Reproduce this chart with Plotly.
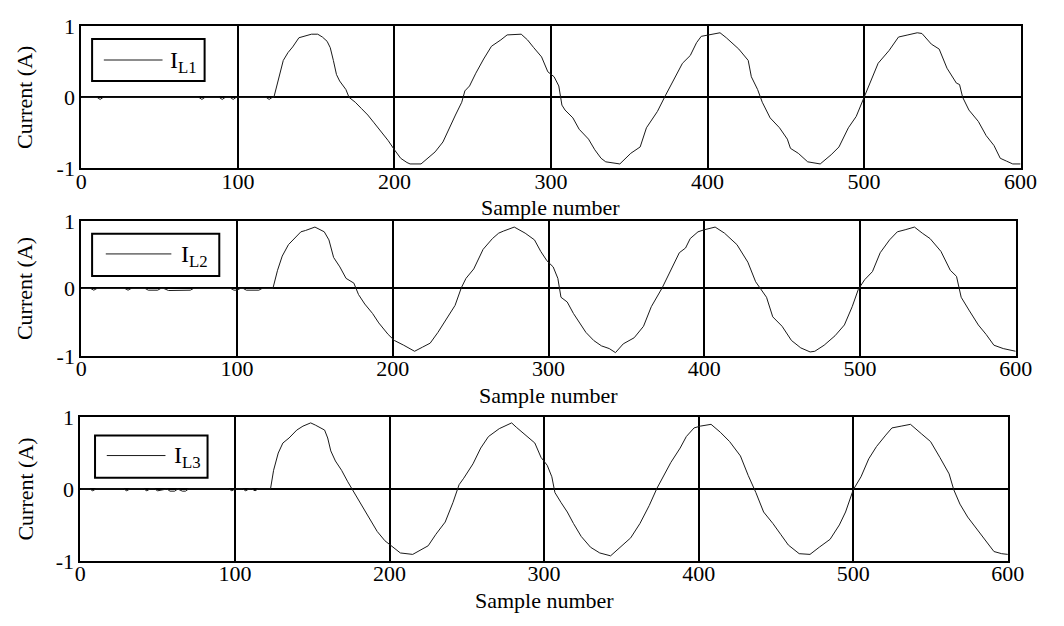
import plotly.graph_objects as go

# ---------------- data ----------------
x_ticks = [0, 100, 200, 300, 400, 500, 600]
x_tick_labels = ["0", "100", "200", "300", "400", "500", "600"]
y_ticks = [-1, 0, 1]
y_tick_labels = ["-1", "0", "1"]
series_names = ["I<sub>L1</sub>", "I<sub>L2</sub>", "I<sub>L3</sub>"]

l1_x = [0, 10, 12, 14, 75, 77, 79, 88, 90, 92, 95, 97, 99, 118, 120, 122,
        123, 126, 129, 132, 135, 139, 143, 147, 151, 154, 157, 159, 161, 163, 165,
        169, 171, 175, 179, 183, 187, 192, 196, 200, 204, 208, 210, 217, 221, 226,
        231, 235, 239, 243, 245, 248, 252, 257, 262, 268, 272, 281, 285, 289, 294,
        298, 302, 305, 307, 309, 314, 318, 324, 328, 332, 335, 344, 351, 357, 361,
        368, 373, 379, 384, 389, 393, 396, 400, 408, 412, 420, 426, 428, 432, 435,
        440, 446, 451, 453, 458, 464, 472, 479, 484, 490, 495, 500, 504, 509, 516,
        522, 528, 534, 537, 543, 548, 553, 559, 561, 563, 567, 573, 578, 583, 587,
        591, 595, 600]
l1_y = [0, 0, -0.03, 0, 0, -0.03, 0, 0, -0.03, 0, 0, -0.03, 0, 0, -0.03, 0,
        0.0, 0.25, 0.52, 0.63, 0.71, 0.84, 0.87, 0.89, 0.89, 0.85, 0.79, 0.70, 0.52, 0.32, 0.23,
        0.11, 0.0, -0.07, -0.16, -0.25, -0.36, -0.50, -0.61, -0.74, -0.86, -0.92, -0.94, -0.94, -0.87, -0.77,
        -0.63, -0.43, -0.25, -0.07, 0.09, 0.16, 0.34, 0.54, 0.72, 0.81, 0.88, 0.89, 0.81, 0.70, 0.57,
        0.36, 0.29, 0.16, -0.11, -0.18, -0.29, -0.45, -0.59, -0.74, -0.86, -0.91, -0.94, -0.79, -0.70, -0.43,
        -0.20, 0.02, 0.27, 0.48, 0.59, 0.77, 0.86, 0.88, 0.91, 0.84, 0.68, 0.52, 0.29, 0.11, -0.07,
        -0.29, -0.43, -0.59, -0.72, -0.79, -0.91, -0.94, -0.81, -0.70, -0.43, -0.27, 0.0, 0.23, 0.48, 0.66,
        0.85, 0.88, 0.91, 0.90, 0.75, 0.68, 0.41, 0.20, 0.18, 0.0, -0.18, -0.34, -0.54, -0.68, -0.86,
        -0.90, -0.94, -0.94]

l2_x = [0, 6, 8, 10, 28, 30, 32, 41, 43, 46, 49, 51, 53, 56, 60, 64, 68, 70, 72, 96, 98, 100, 102,
        104, 106, 110, 114, 116, 123,
        126, 129, 133, 136, 141, 144, 150, 156, 159, 162, 166, 170, 175, 178, 182, 187, 191,
        197, 201, 207, 214, 219, 224, 229, 234, 240, 244, 247, 252, 258, 264, 268, 271, 278,
        285, 291, 295, 299, 303, 306, 308, 312, 316, 320, 324, 329, 334, 339, 343, 348, 355,
        361, 366, 373, 379, 384, 388, 391, 396, 400, 407, 413, 421, 428, 433, 440, 444, 450,
        456, 462, 468, 471, 477, 484, 490, 495, 499, 503, 508, 513, 519, 524, 529, 535, 540,
        545, 552, 558, 562, 565, 570, 576, 581, 586, 592, 600]
l2_y = [0, 0, -0.025, 0, 0, -0.025, 0, 0, -0.025, -0.025, -0.025, 0, 0, -0.03, -0.03, -0.03, -0.03, -0.025, 0, 0, -0.025, -0.025, 0,
        0, -0.025, -0.025, -0.025, 0, 0,
        0.27, 0.48, 0.65, 0.72, 0.84, 0.86, 0.91, 0.84, 0.72, 0.46, 0.32, 0.15, 0.08, -0.09, -0.23, -0.37, -0.51,
        -0.68, -0.77, -0.84, -0.93, -0.87, -0.81, -0.65, -0.46, -0.25, 0.01, 0.15, 0.29, 0.58, 0.74, 0.82, 0.85, 0.91,
        0.82, 0.72, 0.55, 0.41, 0.32, 0.15, -0.13, -0.20, -0.37, -0.51, -0.65, -0.77, -0.85, -0.89, -0.95, -0.82, -0.73,
        -0.56, -0.27, 0.01, 0.29, 0.53, 0.60, 0.74, 0.84, 0.87, 0.91, 0.82, 0.65, 0.39, 0.10, -0.13, -0.42, -0.56,
        -0.77, -0.88, -0.94, -0.93, -0.84, -0.70, -0.54, -0.27, -0.01, 0.13, 0.25, 0.53, 0.72, 0.84, 0.87, 0.91, 0.82,
        0.74, 0.55, 0.27, 0.18, -0.13, -0.32, -0.54, -0.68, -0.84, -0.89, -0.93]

l3_x = [0, 6, 8, 10, 28, 30, 32, 41, 43, 45, 48, 50, 56, 58, 61, 63, 66, 68, 70, 96, 98, 100,
        105, 107, 109, 111, 113, 115, 123,
        125, 128, 131, 135, 140, 144, 149, 152, 158, 160, 162, 165, 169, 173, 178, 182, 187,
        192, 197, 201, 207, 215, 220, 225, 230, 236, 241, 245, 248, 254, 259, 264, 271, 279,
        282, 287, 294, 298, 302, 305, 307, 311, 315, 319, 324, 330, 336, 343, 350, 356, 362,
        368, 373, 378, 382, 388, 392, 397, 401, 408, 414, 420, 427, 432, 437, 442, 448, 453,
        458, 465, 472, 478, 485, 491, 495, 500, 505, 510, 515, 521, 525, 531, 537, 544, 550,
        556, 562, 565, 569, 574, 581, 587, 591, 596, 600]
l3_y = [0, 0, -0.025, 0, 0, -0.025, 0, 0, -0.025, 0, 0, -0.025, 0, -0.03, -0.03, 0, -0.03, -0.03, 0, 0, -0.025, 0,
        0, -0.025, 0, 0, -0.025, 0, 0,
        0.26, 0.50, 0.64, 0.71, 0.82, 0.875, 0.92, 0.89, 0.82, 0.71, 0.53, 0.39, 0.26, 0.10, -0.08, -0.21, -0.41,
        -0.59, -0.72, -0.79, -0.89, -0.91, -0.85, -0.79, -0.63, -0.46, -0.19, 0.06, 0.15, 0.35, 0.57, 0.73, 0.84, 0.92,
        0.86, 0.77, 0.64, 0.44, 0.33, 0.17, -0.05, -0.19, -0.32, -0.48, -0.66, -0.81, -0.89, -0.93, -0.79, -0.68, -0.48,
        -0.23, 0.01, 0.21, 0.37, 0.57, 0.73, 0.85, 0.875, 0.90, 0.79, 0.66, 0.46, 0.19, -0.05, -0.32, -0.48, -0.63,
        -0.78, -0.90, -0.91, -0.81, -0.70, -0.50, -0.32, -0.01, 0.17, 0.42, 0.59, 0.75, 0.85, 0.875, 0.90, 0.77, 0.66,
        0.44, 0.21, -0.01, -0.21, -0.39, -0.59, -0.77, -0.87, -0.90, -0.91]

# ---------------- layout helpers ----------------
W, H = 1064, 626
FONT = "Liberation Serif"


def px(x):
    return x / W


def py(y):
    return 1 - y / H


# plot-area pixel boxes: (left, right, top, bottom)
panels = [(77, 1037, 15, 162.7), (77, 1032, 217.7, 358.3), (76, 1024, 422, 571.7)]
legend_boxes = [  # (left, right, top, bottom, line_x0, line_x1, line_y, text_x)
    (88, 203, 28, 72, 100, 160, 50, 166),
    (88, 218, 231, 275, 102, 169, 252, 177),
    (91, 206, 441, 485, 103, 163, 462, 170),
]
series = [(l1_x, l1_y), (l2_x, l2_y), (l3_x, l3_y)]

fig = go.Figure()
shapes = []
annotations = []

for i, ((sx, sy), (L, R, T, B), lb, name) in enumerate(zip(series, panels, legend_boxes, series_names)):
    n = "" if i == 0 else str(i + 1)
    fig.add_trace(go.Scatter(x=sx, y=sy, mode="lines", name=name,
                             line=dict(color="#1a1a1a", width=1),
                             xaxis="x" + n, yaxis="y" + n, showlegend=False))
    axis_common = dict(showline=True, mirror=True, linecolor="black", linewidth=2,
                       showgrid=True, gridcolor="black", gridwidth=1.5, zeroline=False,
                       ticks="", tickfont=dict(family=FONT, size=22, color="black"))
    fig.update_layout(**{
        "xaxis" + n: dict(domain=[px(L), px(R)], range=[0, 600], anchor="y" + n,
                          tickvals=x_ticks, ticktext=x_tick_labels,
                          ticklabelstandoff=-8, **axis_common),
        "yaxis" + n: dict(domain=[py(B), py(T)], range=[-1, 1], anchor="x" + n,
                          tickvals=y_ticks, ticktext=y_tick_labels, **axis_common),
    })
    # x-axis title
    annotations.append(dict(text="Sample number", x=px((L + R) / 2), y=py(B + 41),
                            xref="paper", yref="paper", showarrow=False,
                            xanchor="center", yanchor="middle",
                            font=dict(family=FONT, size=22, color="black")))
    # y-axis title
    annotations.append(dict(text="Current (A)", x=px(19), y=py((T + B) / 2),
                            xref="paper", yref="paper", showarrow=False, textangle=-90,
                            xanchor="center", yanchor="middle",
                            font=dict(family=FONT, size=22, color="black")))
    # legend box
    bl, br, bt, bb, lx0, lx1, ly, tx = lb
    shapes.append(dict(type="rect", xref="paper", yref="paper",
                       x0=px(bl), x1=px(br), y0=py(bb), y1=py(bt),
                       line=dict(color="black", width=2), fillcolor="white", layer="above"))
    shapes.append(dict(type="line", xref="paper", yref="paper",
                       x0=px(lx0), x1=px(lx1), y0=py(ly), y1=py(ly),
                       line=dict(color="#1a1a1a", width=1), layer="above"))
    annotations.append(dict(text="I<sub>L%d</sub>" % (i + 1), x=px(tx), y=py(ly + 2),
                            xref="paper", yref="paper", showarrow=False,
                            xanchor="left", yanchor="middle",
                            font=dict(family=FONT, size=24, color="black")))

fig.update_layout(width=W, height=H, margin=dict(l=0, r=0, t=0, b=0),
                  paper_bgcolor="white", plot_bgcolor="white",
                  shapes=shapes, annotations=annotations, showlegend=False)

fig.write_html("out.html")
